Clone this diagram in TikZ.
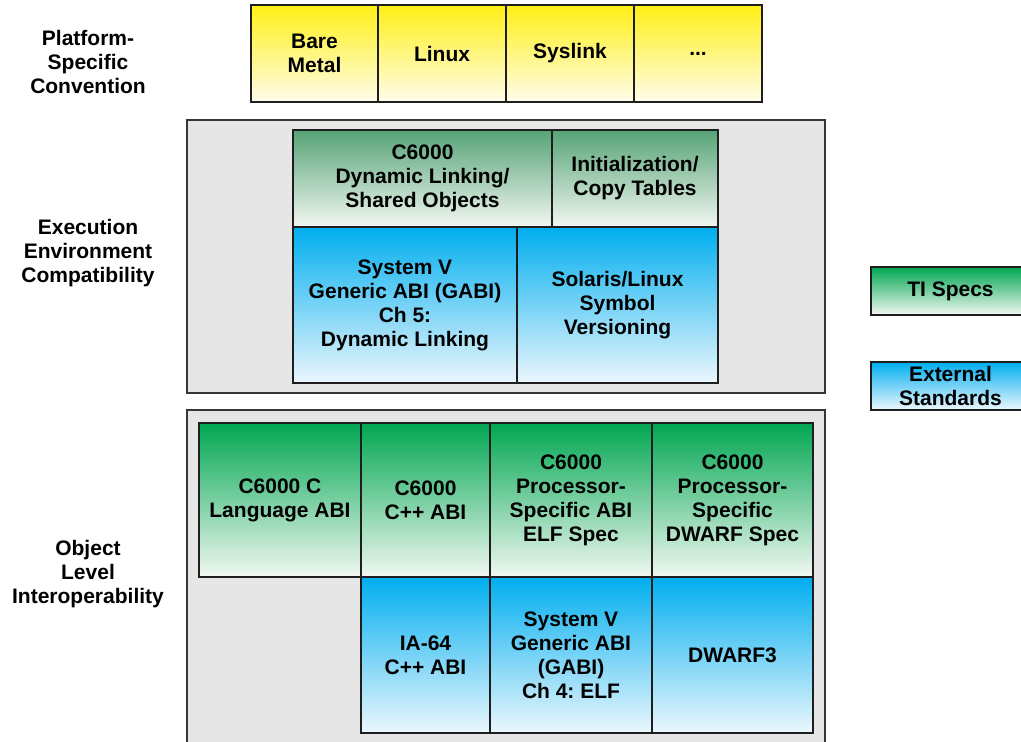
\documentclass[tikz,border=0pt]{standalone}
\usepackage{fontspec}
\setmainfont{Liberation Sans}
\frenchspacing
\definecolor{ylwtop}{RGB}{255,240,20}
\definecolor{ylwbot}{RGB}{255,252,236}
\definecolor{dgrtop}{RGB}{86,163,118}
\definecolor{dgrbot}{RGB}{242,247,242}
\definecolor{grtop}{RGB}{0,166,81}
\definecolor{grbot}{RGB}{242,248,242}
\definecolor{bltop}{RGB}{0,174,239}
\definecolor{blbot}{RGB}{236,247,253}
\definecolor{panel}{RGB}{230,230,230}
\definecolor{edge}{RGB}{30,30,30}
\begin{document}
\begin{tikzpicture}[x=1pt,y=-1pt,
    cell/.style={draw=edge,line width=2pt,inner sep=0pt,align=center,
      font=\fontsize{21}{24}\selectfont\bfseries},
    ylw/.style={cell,top color=ylwtop,bottom color=ylwbot},
    dgr/.style={cell,top color=dgrtop,bottom color=dgrbot},
    gr/.style={cell,top color=grtop,bottom color=grbot},
    bl/.style={cell,top color=bltop,bottom color=blbot},
    panelbox/.style={draw=edge!90,fill=panel,line width=1.5pt,inner sep=0pt},
    lbl/.style={align=center,font=\fontsize{21}{24}\selectfont\bfseries}]
  \useasboundingbox (0,0) rectangle (1021,742);
  % left labels
  \node[lbl] (platlbl) at (88,62) {Platform-\\Specific\\Convention};
  \node[lbl] (execlbl) at (88,253) {Execution\\Environment\\Compatibility};
  \node[lbl] (objlbl) at (88,574) {Object\\Level\\Interoperability};
  % platform row
  \node[ylw,minimum width=127pt,minimum height=97pt] (bare) at (314.5,53.5) {Bare\\Metal};
  \node[ylw,minimum width=128pt,minimum height=97pt] (linux) at (442,53.5) {Linux};
  \node[ylw,minimum width=128pt,minimum height=97pt] (syslink) at (570,53.5) {Syslink};
  \node[ylw,minimum width=128pt,minimum height=97pt] (more) at (698,53.5) {...};
  % execution environment
  \node[panelbox,minimum width=638pt,minimum height=273pt] (exec) at (506,256.5) {};
  \node[dgr,minimum width=259pt,minimum height=97pt] (dynlink) at (422.5,178.5)
    {C6000\\Dynamic Linking/\\Shared Objects};
  \node[dgr,minimum width=166pt,minimum height=97pt] (inittab) at (635,178.5)
    {Initialization/\\Copy Tables};
  \node[bl,minimum width=224pt,minimum height=156pt] (gabifive) at (405,305)
    {System V\\Generic ABI (GABI)\\Ch 5:\\Dynamic Linking};
  \node[bl,minimum width=201pt,minimum height=156pt] (symver) at (617.5,305)
    {Solaris/Linux\\Symbol\\Versioning};
  % object level
  \node[panelbox,minimum width=638pt,minimum height=350pt] (obj) at (506,585) {};
  \node[gr,minimum width=162pt,minimum height=154pt] (cabi) at (280,500)
    {C6000 C\\Language ABI};
  \node[gr,minimum width=129pt,minimum height=154pt] (cppabi) at (425.5,500)
    {C6000\\C++ ABI};
  \node[gr,minimum width=162pt,minimum height=154pt] (psabi) at (571,500)
    {C6000\\Processor-\\Specific ABI\\ELF Spec};
  \node[gr,minimum width=161pt,minimum height=154pt] (dwarfspec) at (732.5,500)
    {C6000\\Processor-\\Specific\\DWARF Spec};
  \node[bl,minimum width=129pt,minimum height=156pt] (iacpp) at (425.5,655)
    {IA-64\\C++ ABI};
  \node[bl,minimum width=162pt,minimum height=156pt] (gabifour) at (571,655)
    {System V\\Generic ABI\\(GABI)\\Ch 4: ELF};
  \node[bl,minimum width=161pt,minimum height=156pt] (dwarf) at (732.5,655)
    {DWARF3};
  % legend
  \node[gr,minimum width=159pt,minimum height=48pt] (tikey) at (950.5,291) {TI Specs};
  \node[bl,minimum width=159pt,minimum height=48pt] (extkey) at (950.5,386)
    {External\\Standards};
\end{tikzpicture}
\end{document}
